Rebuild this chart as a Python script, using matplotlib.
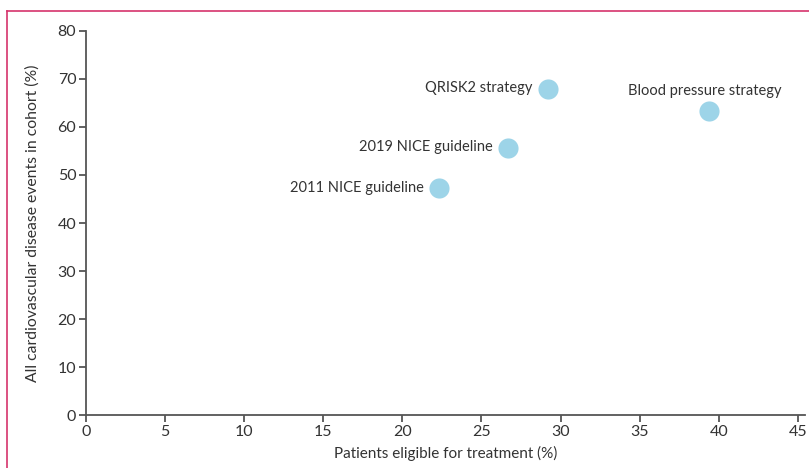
import matplotlib
matplotlib.use('Agg')
import matplotlib.pyplot as plt
from matplotlib.lines import Line2D

plt.rcParams['font.family'] = ['Lato', 'DejaVu Sans']

# data
strategies = ['QRISK2 strategy', 'Blood pressure strategy', '2019 NICE guideline', '2011 NICE guideline']
eligible = [29.2, 39.4, 26.7, 22.3]
events = [68.0, 63.4, 55.7, 47.2]

xticks = [0, 5, 10, 15, 20, 25, 30, 35, 40, 45]
yticks = [0, 10, 20, 30, 40, 50, 60, 70, 80]

txt = '#333333'
axcol = '#555555'

fig = plt.figure(figsize=(8.09, 4.68), dpi=100)
ax = fig.add_axes([0.1063, 0.1132, 0.8887, 0.8206])

ax.scatter(eligible, events, s=210, color='#9dd4e8', zorder=3, linewidths=0)

# labels: left of the point, except blood pressure which sits above
for name, x, y in zip(strategies, eligible, events):
    if name.startswith('Blood'):
        ax.annotate(name, (x, y), xytext=(-3, 14), textcoords='offset points',
                    ha='center', va='center', fontsize=10.5, color=txt)
    else:
        ax.annotate(name, (x, y), xytext=(-11, 0.5), textcoords='offset points',
                    ha='right', va='center', fontsize=10.5, color=txt)

ax.set_xlim(0, 45.45)
ax.set_ylim(0, 80)
ax.set_xticks(xticks)
ax.set_yticks(yticks)
ax.tick_params(direction='out', length=5, width=1.3, color=axcol,
               labelsize=11.5, labelcolor=txt, pad=2)
for s in ['top', 'right']:
    ax.spines[s].set_visible(False)
for s in ['left', 'bottom']:
    ax.spines[s].set_color(axcol)
    ax.spines[s].set_linewidth(1.3)

ax.set_xlabel('Patients eligible for treatment (%)', fontsize=11, color=txt, labelpad=5)
ax.set_ylabel('All cardiovascular disease events in cohort (%)', fontsize=11.3, color=txt, labelpad=13)

# pink frame line (left and top)
fx = 7.5 / 809
fy = 1 - 10.5 / 468
fig.add_artist(Line2D([fx, fx], [0, fy], transform=fig.transFigure, color='#d6336c', lw=1.2))
fig.add_artist(Line2D([fx, 1], [fy, fy], transform=fig.transFigure, color='#d6336c', lw=1.2))

fig.savefig('out.png', dpi=100)
